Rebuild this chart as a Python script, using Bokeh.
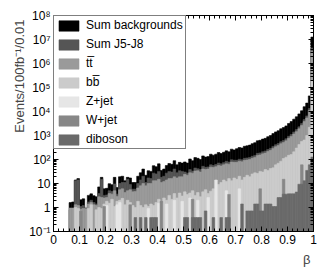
from bokeh.plotting import figure
from bokeh.models import (Range1d, FixedTicker, LinearAxis, LogAxis, Legend,
                          LegendItem, Title, ColumnDataSource)
from bokeh.embed import file_html
from bokeh.resources import INLINE

# ---------------- data (events per 0.01 bin of beta) ----------------
bin_edges = [round(i * 0.01, 2) for i in range(101)]

sum_backgrounds = [
    0, 0, 0, 0, 0, 0, 1.6, 1.7, 14, 16,
    2.1, 2.3, 0.95, 3.2, 3.7, 3.1, 2.8, 7.2, 18, 6.0,
    6.3, 9.8, 8.9, 18, 6.8, 19, 20, 13, 18, 17,
    11, 11, 20, 28, 40, 22, 34, 32, 55, 50,
    66, 35, 40, 56, 68, 63, 89, 60, 76, 71,
    79, 71, 105, 89, 120, 112, 100, 141, 126, 132,
    166, 151, 166, 195, 178, 200, 229, 209, 269, 251,
    282, 316, 302, 355, 372, 398, 457, 501, 603, 631,
    708, 759, 891, 1000, 1200, 1410, 1580, 1900, 2140, 2510,
    3160, 3800, 4790, 6030, 7940, 10700, 15800, 22400, 44700, 12600000,
]
sum_j5_j8 = [
    0, 0, 0, 0, 0, 0, 0.8, 0.9, 13, 14,
    1.1, 1.2, 0, 1.7, 2.0, 1.6, 1.4, 3.8, 15, 3.2,
    3.3, 5.0, 4.6, 9.5, 3.6, 10, 11, 11, 15, 9,
    5.8, 5.8, 10, 14, 20, 11, 17, 16, 27, 25,
    32, 18, 20, 27, 32, 30, 40, 28, 34, 32,
    30, 27, 38, 33, 44, 41, 38, 52, 47, 49,
    60, 56, 62, 71, 66, 74, 84, 78, 98, 93,
    92, 102, 97, 112, 116, 122, 136, 148, 180, 188,
    210, 225, 262, 292, 352, 414, 462, 552, 620, 730,
    925, 1100, 1400, 1760, 2300, 3150, 4600, 6550, 13300, 4400000,
]
ttbar = [
    0, 0, 0, 0, 0, 0, 0.95, 0.95, 1.3, 1.2,
    0.85, 0.9, 0.9, 1.4, 1.6, 1.3, 1.2, 2.8, 2.6, 2.5,
    2.6, 3.8, 3.6, 5.0, 2.9, 5.5, 6.0, 4.2, 5.0, 5.5,
    4.5, 4.6, 6.5, 8.0, 10, 8.0, 10, 10, 13, 13,
    15, 11, 12, 14, 16, 16, 19, 17, 19, 19,
    24, 22, 28, 27, 33, 34, 30, 40, 38, 40,
    48, 46, 50, 56, 54, 60, 66, 64, 78, 76,
    76, 85, 80, 92, 95, 100, 112, 122, 148, 155,
    172, 185, 215, 240, 290, 340, 380, 455, 510, 600,
    760, 910, 1150, 1450, 1900, 2600, 3800, 5400, 11000, 3200000,
]
bbbar = [
    0, 0, 0, 0, 0, 0, 0, 0, 1.0, 0.9,
    0, 0, 0, 0.9, 1.3, 0, 0.8, 1.0, 0.9, 1.4,
    1.8, 1.5, 2.2, 1.1, 1.8, 2.0, 2.4, 1.3, 2.0, 1.6,
    1.2, 1.0, 1.8, 1.2, 1.0, 1.3, 1.1, 1.4, 1.2, 1.6,
    2.2, 1.5, 2.5, 2.0, 3.2, 2.2, 3.8, 2.5, 4.0, 3.0,
    4.5, 3.5, 4.0, 5.0, 3.2, 4.2, 2.8, 4.5, 5.5, 3.8,
    4.8, 6.0, 3.0, 9, 11, 14, 12, 16, 13, 17,
    15, 20, 14, 18, 22, 19, 25, 28, 26, 32,
    30, 38, 35, 42, 45, 60, 70, 85, 110, 125,
    150, 160, 210, 300, 420, 560, 650, 1000, 2200, 200000,
]
z_jet = [
    0, 0, 0, 0, 0, 0, 0, 0, 0, 0,
    0, 0, 0, 0, 0, 0, 0, 0, 0, 0,
    1.2, 0, 0, 0, 1.3, 1.6, 0, 0, 0, 0,
    0, 0, 0, 0, 0, 0, 0.9, 0, 0, 0,
    1.5, 0, 0, 1.4, 0, 0, 2.0, 0, 0, 1.8,
    0, 0, 2.5, 0, 0, 2.0, 0, 0, 0, 2.6,
    0, 0, 14, 0, 0, 0, 5.0, 0, 0, 0,
    0, 6.0, 0, 0, 0, 0, 0, 0, 0, 0,
    0, 0, 0, 0, 0, 0, 0, 0, 0, 0,
    0, 0, 0, 0, 0, 0, 0, 0, 0, 0,
]
w_jet = [
    0, 0, 0, 0, 0, 0, 0, 0, 0, 0,
    0.7, 0, 0, 0, 0, 0, 0, 0, 0, 1.1,
    0, 0, 0, 0, 0, 0, 0, 0, 0, 1.3,
    0, 0, 0, 0, 0, 0, 0, 0, 0, 0,
    0, 1.8, 0, 0, 0, 0, 0, 0, 0, 0,
    0, 0, 0, 2.2, 0, 0, 0, 0, 0, 0,
    0, 0, 0, 0, 0, 0, 0, 3.5, 0, 0,
    0, 0, 0, 0, 0, 0, 0, 0, 0, 6.0,
    0, 0, 0, 0, 0, 0, 0, 0, 15, 0,
    0, 0, 0, 0, 0, 60, 0, 0, 0, 0,
]
diboson = [
    0, 0, 0, 0, 0, 0, 0, 0, 0, 0,
    0, 0, 0, 0, 0, 0, 0, 0, 0, 0,
    0, 0, 0, 0, 0, 0, 0, 0, 0, 0,
    0, 0.38, 0, 0.38, 0, 0.38, 0, 0.38, 0.38, 0.38,
    0, 0, 0, 0, 0, 0, 0, 0, 0, 0,
    0.38, 0.38, 0, 0.38, 0.38, 0.38, 0.38, 0, 0.72, 0,
    0, 0.38, 0, 0, 0.38, 0, 0.38, 0.38, 0, 0,
    0, 0, 1.4, 0, 0.72, 0.72, 0.72, 1.4, 1.4, 0.72,
    0.72, 1.4, 1.4, 1.4, 1.1, 1.1, 2.6, 2.6, 3.6, 3.6,
    3.7, 3.7, 3.7, 4.4, 9.3, 9.3, 13, 35, 60, 126,
]

series_labels = ["Sum backgrounds", "Sum J5-J8", "t\u0074\u0305", "b\u0062\u0305",
                 "Z+jet", "W+jet", "diboson"]
series_values = [sum_backgrounds, sum_j5_j8, ttbar, bbbar, z_jet, w_jet, diboson]
series_colors = ["#000000", "#555555", "#9a9a9a", "#cbcbcb", "#e6e6e6", "#878787", "#6a6a6a"]

x_major = [0, 0.1, 0.2, 0.3, 0.4, 0.5, 0.6, 0.7, 0.8, 0.9, 1]
x_labels = ["0", "0.1", "0.2", "0.3", "0.4", "0.5", "0.6", "0.7", "0.8", "0.9", "1"]
y_major = [0.1, 1, 10, 100, 1e3, 1e4, 1e5, 1e6, 1e7, 1e8]
y_labels = ["10\u207b\u00b9", "1", "10", "10\u00b2", "10\u00b3", "10\u2074",
            "10\u2075", "10\u2076", "10\u2077", "10\u2078"]

Y_MIN, Y_MAX = 0.1, 1e8
FONT = "Liberation Sans"

x_minor = [round(i * 0.02, 2) for i in range(51)]
y_minor = [k * 10.0 ** e for e in range(-1, 8) for k in range(2, 10)]

p = figure(width=330, height=274, x_range=Range1d(0, 1), y_range=Range1d(Y_MIN, Y_MAX),
           y_axis_type="log", output_backend="svg", toolbar_location=None,
           min_border_left=53, min_border_right=17, min_border_top=15, min_border_bottom=43)
p.grid.visible = False
p.outline_line_color = "black"
p.outline_line_width = 1
p.background_fill_color = "white"
p.border_fill_color = "white"

renderers = []
for vals, col in zip(series_values, series_colors):
    idx = [i for i, v in enumerate(vals) if v > 0]
    src = ColumnDataSource(dict(
        left=[bin_edges[i] for i in idx],
        right=[bin_edges[i + 1] for i in idx],
        top=[vals[i] for i in idx],
        bottom=[Y_MIN] * len(idx),
    ))
    r = p.quad(left="left", right="right", top="top", bottom="bottom", source=src,
               fill_color=col, line_color=col, line_width=0.6)
    renderers.append(r)


def style_axis(ax):
    ax.axis_line_color = "black"
    ax.major_tick_line_color = "black"
    ax.minor_tick_line_color = "black"
    ax.major_tick_in = 5
    ax.major_tick_out = 0
    ax.minor_tick_in = 3
    ax.minor_tick_out = 0
    ax.major_label_text_font = FONT
    ax.major_label_text_color = "black"
    ax.major_label_text_font_size = "12px"
    ax.major_label_standoff = 3


xa = p.xaxis[0]
xa.ticker = FixedTicker(ticks=x_major, minor_ticks=x_minor)
xa.major_label_overrides = {t: s for t, s in zip(x_major, x_labels)}
style_axis(xa)

ya = p.yaxis[0]
ya.ticker = FixedTicker(ticks=y_major, minor_ticks=y_minor)
ya.major_label_overrides = {t: s for t, s in zip(y_major, y_labels)}
style_axis(ya)

# mirror ticks on top and right (ROOT style), without labels
top_ax = LinearAxis(ticker=FixedTicker(ticks=x_major, minor_ticks=x_minor))
style_axis(top_ax)
top_ax.major_label_overrides = {t: "" for t in x_major}
top_ax.major_label_text_font_size = "1px"
top_ax.major_label_standoff = 0
p.add_layout(top_ax, "above")

right_ax = LogAxis(ticker=FixedTicker(ticks=y_major, minor_ticks=y_minor))
style_axis(right_ax)
right_ax.major_label_overrides = {t: "" for t in y_major}
right_ax.major_label_text_font_size = "1px"
right_ax.major_label_standoff = 0
p.add_layout(right_ax, "right")

p.add_layout(Title(text="Events/100fb\u207b\u00b9/0.01", align="right", text_font=FONT,
                   text_font_size="13px", text_font_style="normal", standoff=0, offset=4),
             "left")
p.add_layout(Title(text="\u03b2", align="right", text_font=FONT, text_font_size="13px",
                   text_font_style="normal", standoff=6, offset=3), "below")

legend = Legend(
    items=[LegendItem(label=lab, renderers=[r]) for lab, r in zip(series_labels, renderers)],
    location="top_left", margin=0, padding=2, spacing=5,
    glyph_width=25, glyph_height=13, label_height=13, label_standoff=5,
    label_text_font=FONT, label_text_font_size="12px", label_text_color="black",
    border_line_color="black", border_line_width=1,
    background_fill_color="white", background_fill_alpha=1,
)
p.add_layout(legend)

open("out.html", "w").write(file_html(p, INLINE))
